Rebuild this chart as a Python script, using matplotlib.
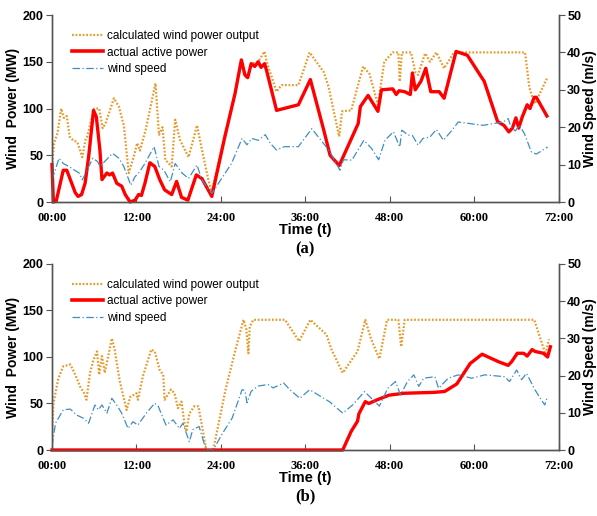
import matplotlib
matplotlib.use("Agg")
import matplotlib.pyplot as plt
from matplotlib.lines import Line2D

# ---- data (hours, MW, m/s) ----
# panel (a)
a_calc_t = [0, 0.3, 0.8, 1.3, 1.7, 2.1, 2.5, 3.0, 3.6, 4.3, 4.8, 5.0, 6.0, 6.7, 7.2, 7.6,
            8.8, 9.5, 10.2, 10.9, 11.6, 12.1, 12.5, 13.3, 14.0, 14.7, 15.2, 15.7, 16.1,
            17.0, 17.5, 18.2, 19.4, 20.6, 21.3, 22.2, 22.7, 24.5, 26.0, 26.9, 27.4, 27.8,
            28.3, 29.3, 30.2, 30.5, 31.9, 32.6, 35.0, 36.6, 38.6, 39.3, 40.0, 40.8, 41.2,
            42.5, 44.2, 45.1, 46.3, 47.2, 48.4, 49.2, 49.4, 49.7, 51.0, 51.6, 52.0, 53.0,
            53.7, 54.6, 55.7, 57.1, 67.2, 67.8, 68.2, 68.6, 70.3]
a_calc = [38, 63, 74, 100, 90, 92, 70, 66, 64, 48, 68, 70, 100, 100, 79, 84,
          111, 102, 82, 31, 48, 63, 55, 77, 102, 127, 72, 80, 45,
          38, 88, 66, 48, 82, 56, 24, 11, 70, 116, 150, 136, 133,
          148, 150, 161, 150, 118, 125, 125, 160, 139, 123, 98, 70, 97,
          98, 145, 137, 104, 150, 160, 160, 129, 160, 160, 139, 136, 159,
          150, 160, 143, 160, 160, 123, 113, 105, 132]

a_act_t = [0, 0.2, 0.6, 1.6, 2.1, 2.6, 3.3, 3.7, 4.2, 4.7, 5.2, 5.9, 6.3, 6.8, 7.1, 7.8,
           8.2, 8.6, 9.2, 9.9, 10.4, 11.1, 11.8, 12.3, 12.7, 13.2, 13.9, 14.6, 15.3, 16.0,
           17.0, 17.7, 18.4, 19.3, 20.5, 21.3, 22.7, 24.5, 26.0, 26.9, 27.4, 27.8, 28.3,
           28.8, 29.3, 29.7, 30.2, 30.5, 31.9, 35.0, 36.7, 38.6, 39.5, 40.8, 42.0, 43.5,
           43.8, 44.9, 46.3, 46.8, 48.4, 48.9, 49.3, 50.1, 50.9, 51.2, 51.6, 52.4, 53.1,
           53.8, 55.0, 55.7, 57.4, 59.0, 60.2, 61.4, 63.3, 64.2, 64.9, 65.4, 65.9, 66.3,
           66.8, 67.5, 67.9, 68.5, 68.8, 70.3]
a_act = [40, 0, 1, 34, 34, 24, 10, 6, 8, 20, 48, 98, 91, 56, 24, 31,
         29, 31, 20, 17, 8, 0, 2, 8, 7, 20, 42, 38, 24, 13,
         8, 22, 5, 2, 29, 25, 6, 68, 116, 152, 136, 133, 148,
         145, 150, 144, 148, 140, 98, 104, 131, 77, 50, 39, 59, 84,
         102, 114, 97, 120, 121, 115, 119, 118, 115, 138, 120, 129, 143,
         118, 118, 111, 161, 157, 143, 129, 86, 82, 75, 79, 90, 79,
         91, 104, 100, 112, 112, 92]

a_wind_t = [0, 1.0, 1.6, 2.5, 3.2, 3.9, 4.3, 5.8, 6.5, 6.8, 8.6, 9.5, 10.2, 11.2, 11.8,
            12.3, 13.2, 14.5, 15.2, 15.9, 16.8, 17.5, 18.5, 19.4, 20.6, 21.3, 22.7, 24.1,
            25.5, 27.0, 27.7, 28.4, 29.3, 30.3, 31.0, 31.9, 33.0, 35.0, 36.9, 38.6, 39.5,
            40.9, 41.4, 42.6, 44.3, 45.4, 46.4, 47.3, 48.5, 49.4, 49.7, 50.6, 51.2, 52.0,
            52.7, 53.7, 54.6, 55.6, 57.0, 57.7, 61.2, 64.1, 64.8, 65.2, 65.8, 66.4, 67.1,
            68.1, 68.8, 70.4]
a_wind = [5.9, 11.7, 10.3, 9.4, 8.5, 7.7, 5.9, 11.7, 10.8, 9.5, 13.0, 11.7, 9.5, 4.5, 6.8,
          7.7, 10.3, 14.8, 9.5, 8.5, 5.4, 10.3, 7.7, 6.3, 9.9, 5.9, 2.3, 6.3,
          10.3, 17.0, 15.3, 17.0, 16.5, 18.0, 15.7, 13.9, 14.8, 14.8, 19.6, 15.6, 13.4,
          8.5, 11.3, 11.2, 16.5, 14.3, 11.3, 16.5, 18.8, 14.7, 19.2, 17.9, 17.8, 15.2,
          17.0, 17.4, 19.4, 16.5, 19.6, 21.4, 20.5, 21.4, 22.3, 20.1, 19.0, 20.5, 18.3,
          13.4, 12.8, 14.7]

# panel (b)
b_calc_t = [0, 0.2, 0.9, 1.6, 2.6, 3.3, 4.0, 4.5, 4.9, 5.4, 5.9, 6.4, 6.7, 7.1, 7.5, 8.5,
            8.9, 9.6, 10.6, 11.1, 12.0, 12.2, 12.9, 14.1, 14.6, 15.3, 15.8, 16.0, 16.9,
            17.4, 17.9, 18.4, 18.8, 19.1, 19.5, 20.2, 20.8, 21.4, 21.9, 22.9, 24.6, 26.0,
            27.2, 27.6, 27.9, 28.1, 28.6, 33.1, 35.1, 36.7, 39.0, 39.7, 41.3, 43.4, 44.5,
            45.3, 46.5, 47.6, 49.2, 49.6, 50.1, 68.5, 70.1, 70.6]
b_calc = [14, 50, 77, 90, 92, 81, 68, 62, 54, 83, 97, 106, 81, 101, 83, 120,
          108, 75, 43, 57, 61, 54, 79, 108, 106, 86, 81, 54, 65,
          61, 45, 52, 29, 20, 39, 47, 47, 22, 0, 0, 63, 106,
          140, 130, 104, 133, 140, 140, 117, 140, 124, 108, 83, 106, 140,
          120, 98, 140, 140, 111, 140, 140, 103, 119]

b_act_t = [0, 41.3, 42.5, 43.4, 43.6, 44.5, 45.0, 46.2, 47.9, 50.0, 54.4, 55.8, 57.5,
           59.4, 61.1, 63.4, 64.8, 65.3, 66.1, 67.0, 67.5, 68.2, 68.6, 69.8, 70.4, 70.8]
b_act = [0, 0, 20, 31, 39, 52, 50, 54, 59, 61, 62, 63, 71,
         93, 103, 95, 91, 95, 104, 104, 101, 108, 106, 104, 100, 111]

b_wind_t = [0, 0.5, 1.6, 2.6, 3.5, 4.5, 5.2, 6.1, 6.6, 7.1, 7.8, 8.5, 9.2, 9.9, 10.8,
            11.5, 12.2, 13.4, 14.6, 15.1, 16.2, 17.2, 18.1, 18.6, 19.5, 20.0, 20.9, 21.6,
            22.1, 22.9, 24.1, 25.6, 27.0, 27.4, 27.7, 28.3, 29.3, 30.7, 31.4, 32.9, 33.8,
            35.2, 36.6, 39.4, 41.3, 42.7, 44.4, 45.1, 46.5, 47.7, 48.8, 49.5, 50.5, 51.4,
            52.1, 52.8, 54.4, 54.9, 56.3, 57.7, 59.6, 61.5, 64.3, 65.0, 66.0, 66.7, 67.4,
            68.6, 69.5, 70.0, 70.4]
b_wind = [1, 7.2, 10.8, 11.0, 9.4, 8.5, 7.2, 12.1, 10.8, 12.1, 9.9, 13.9, 12.1, 9.9, 5.8,
          7.6, 6.7, 9.9, 12.6, 11.7, 6.7, 8.1, 5.8, 7.2, 2.2, 5.5, 6.3, 1.8,
          0, 0, 4.1, 8.6, 16.2, 16.0, 12.7, 15.8, 17.2, 17.6, 16.7, 18.0, 16.2,
          13.9, 16.2, 13.0, 9.9, 12.1, 15.7, 14.4, 11.8, 16.6, 18.4, 14.8, 18.4, 20.2,
          17.1, 19.3, 19.7, 16.6, 19.3, 20.2, 19.3, 20.2, 19.7, 18.4, 21.5, 18.9, 20.6,
          16.2, 13.5, 12.1, 14.4]

x_ticks = [0, 12, 24, 36, 48, 60, 72]
x_labels = ["00:00", "12:00", "24:00", "36:00", "48:00", "60:00", "72:00"]
labels = ["calculated wind power output", "actual active power", "wind speed"]

C_CALC = "#E59B2C"
C_ACT = "#FF0000"
C_WIND = "#3F8EC2"
SPINE = "#555555"

fig = plt.figure(figsize=(5.97, 5.16), dpi=100)


def panel(rect, ct, cv, at, av, wt, wv, tag):
    ax = fig.add_axes(rect)
    ax2 = ax.twinx()
    ax.plot(ct, cv, color=C_CALC, lw=1.6, ls=(0, (0.8, 0.8)), zorder=2)
    ax.plot(at, av, color=C_ACT, lw=2.4, zorder=3, clip_on=False)
    ax2.plot(wt, wv, color=C_WIND, lw=0.9, ls=(0, (6, 2, 1, 2)))

    ax.set_xlim(0, 72)
    ax.set_ylim(0, 200)
    ax2.set_ylim(0, 50)
    ax.set_yticks([0, 50, 100, 150, 200])
    ax2.set_yticks([0, 10, 20, 30, 40, 50])
    ax.set_xticks(x_ticks)
    ax.set_xticklabels(x_labels, family="Liberation Serif", fontweight="bold", fontsize=9)
    for a in (ax, ax2):
        a.spines["top"].set_visible(False)
        for s in ("left", "right", "bottom"):
            a.spines[s].set_color(SPINE)
            a.spines[s].set_linewidth(1.0)
    ax.tick_params(axis="x", direction="in", length=4, color=SPINE, pad=7)
    ax.tick_params(axis="y", direction="out", length=4, color=SPINE, pad=2)
    ax2.tick_params(axis="y", direction="out", length=4, color=SPINE, pad=2)
    for t in ax.get_yticklabels() + ax2.get_yticklabels():
        t.set_family("Liberation Sans")
        t.set_fontweight("bold")
        t.set_fontsize(9)

    ax.set_ylabel("Wind  Power (MW)", family="Liberation Sans", fontweight="bold",
                  fontsize=10)
    ax.yaxis.set_label_coords(-0.064, 0.5)
    ax2.set_ylabel("Wind Speed (m/s)", family="Liberation Sans", fontweight="bold",
                   fontsize=10)
    ax2.yaxis.set_label_coords(1.047, 0.5)
    ax.set_xlabel("Time (t)", family="Liberation Sans", fontweight="bold",
                  fontsize=10.5)
    ax.xaxis.set_label_coords(0.5, -0.113)
    ax.text(0.5, -0.252, tag, transform=ax.transAxes, ha="center", va="center",
            family="Liberation Serif", fontweight="bold", fontsize=12)

    handles = [Line2D([], [], color=C_CALC, lw=1.6, ls=(0, (0.8, 0.8))),
               Line2D([], [], color=C_ACT, lw=2.6),
               Line2D([], [], color=C_WIND, lw=0.9, ls=(0, (6, 2, 1, 2)))]
    ax2.legend(handles, labels, loc="upper left", bbox_to_anchor=(0.03, 0.945),
               frameon=False, handlelength=2.6, handletextpad=0.4, labelspacing=0.38,
               borderaxespad=0, prop={"family": "Liberation Sans", "size": 8.5})
    return ax


panel([0.0871, 0.6085, 0.849, 0.3624], a_calc_t, a_calc, a_act_t, a_act,
      a_wind_t, a_wind, "(a)")
panel([0.0871, 0.1279, 0.849, 0.3605], b_calc_t, b_calc, b_act_t, b_act,
      b_wind_t, b_wind, "(b)")

fig.savefig("out.png", dpi=100)
